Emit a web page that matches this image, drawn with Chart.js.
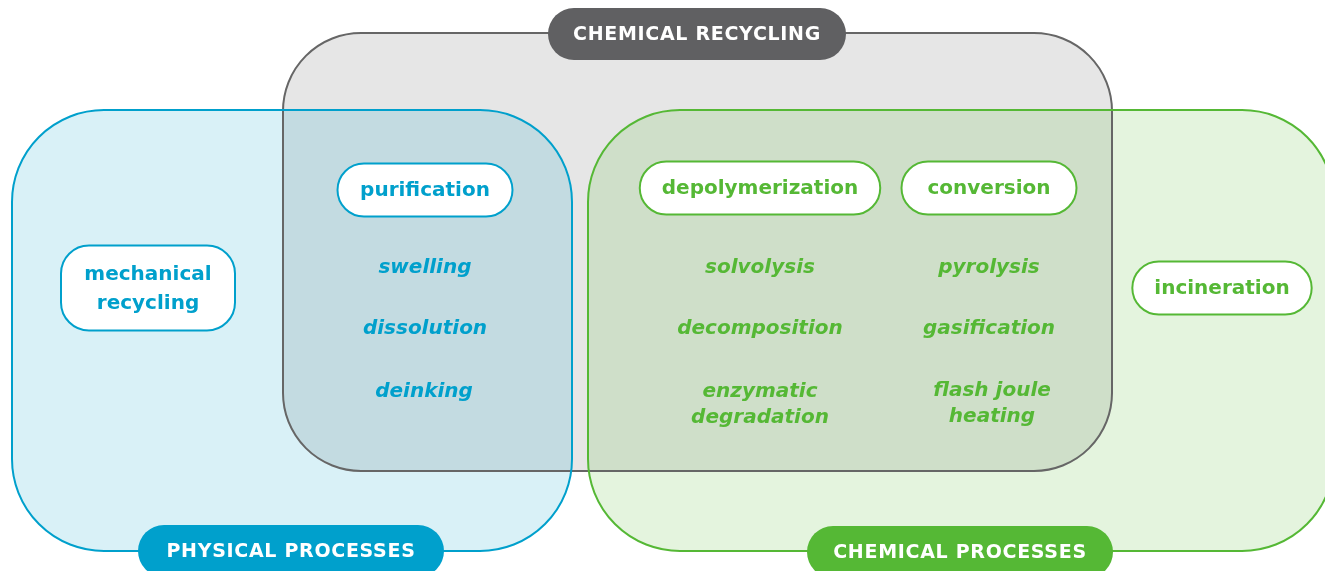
<!DOCTYPE html>
<html>
<head>
<meta charset="utf-8">
<script src="https://cdn.jsdelivr.net/npm/chart.js@4.4.1/dist/chart.umd.min.js"></script>
<style>
  html, body { margin: 0; background: #fff; }
  canvas { display: block; }
</style>
</head>
<body>
<canvas id="venn" width="1325" height="571"></canvas>
<script>
// Recycling routes diagram: three overlapping rounded sets with process labels

// sets (drawn in this order)
const setNames  = ['CHEMICAL RECYCLING', 'PHYSICAL PROCESSES', 'CHEMICAL PROCESSES'];
const setLeft   = [283, 12, 588];
const setRight  = [1112, 572, 1334];
const setTop    = [33, 110, 110];
const setBottom = [471, 551, 551];
const setTagX   = [697, 291, 960];
const setTagY   = [34, 551, 552];

// route boxes (white pills)
const routeNames = [['mechanical', 'recycling'], ['purification'], ['depolymerization'], ['conversion'], ['incineration']];
const routeSet   = [1, 1, 2, 2, 2];
const routeX     = [148, 425, 760, 989, 1222];
const routeY     = [288, 190, 188, 188, 288];

// individual techniques (italic)
const techNames = [['swelling'], ['dissolution'], ['deinking'],
                   ['solvolysis'], ['decomposition'], ['enzymatic', 'degradation'],
                   ['pyrolysis'], ['gasification'], ['flash joule', 'heating']];
const techSet   = [1, 1, 1, 2, 2, 2, 2, 2, 2];
const techX     = [425, 425, 424, 760, 760, 760, 989, 989, 992];
const techY     = [266, 327, 390, 266, 327, 403, 266, 327, 402];

const strokeCol = ['#666666', '#00a0cc', '#55b835'];
const fillCol   = ['#e6e6e6', 'rgba(0,160,204,0.15)', 'rgba(84,185,52,0.16)'];
const tagCol    = ['#606062', '#00a0cc', '#55b835'];

const FONT = '"DejaVu Sans", "Open Sans", sans-serif';

const vennPlugin = {
  id: 'venn',
  beforeDatasetsDraw(chart) {
    const ctx = chart.ctx;
    const sx = chart.scales.x, sy = chart.scales.y;
    const X = v => sx.getPixelForValue(v);
    const Y = v => sy.getPixelForValue(v);
    const box = (x0, y0, x1, y1, r) => {
      ctx.beginPath();
      ctx.roundRect(X(x0), Y(y0), X(x1) - X(x0), Y(y1) - Y(y0), r);
    };

    ctx.save();
    // fills
    setNames.forEach((n, i) => {
      box(setLeft[i], setTop[i], setRight[i], setBottom[i], i === 0 ? 78 : 92);
      ctx.fillStyle = fillCol[i];
      ctx.fill();
    });
    // outlines
    setNames.forEach((n, i) => {
      box(setLeft[i], setTop[i], setRight[i], setBottom[i], i === 0 ? 78 : 92);
      ctx.lineWidth = 2;
      ctx.strokeStyle = strokeCol[i];
      ctx.stroke();
    });

    // set tags
    ctx.font = '700 19px ' + FONT;
    ctx.letterSpacing = '0.7px';
    ctx.textAlign = 'center';
    ctx.textBaseline = 'middle';
    setNames.forEach((n, i) => {
      const cx = X(setTagX[i]), cy = Y(setTagY[i]);
      const hw = 153, hh = 26;
      ctx.beginPath();
      ctx.roundRect(cx - hw + (i === 0 ? 4 : 0), cy - hh, hw * 2 - (i === 0 ? 8 : 0), hh * 2, 26);
      ctx.fillStyle = tagCol[i];
      ctx.fill();
      ctx.fillStyle = '#ffffff';
      ctx.fillText(n, cx, cy + 1);
    });
    ctx.letterSpacing = '0px';

    // route pills
    ctx.font = '700 20px ' + FONT;
    routeNames.forEach((lines, i) => {
      const cx = X(routeX[i]), cy = Y(routeY[i]);
      let w = Math.max(175, Math.max(...lines.map(l => ctx.measureText(l).width)) + 44);
      const h = lines.length > 1 ? 85 : 53;
      if (lines.length > 1) w = 174;
      ctx.beginPath();
      ctx.roundRect(cx - w / 2, cy - h / 2, w, h, lines.length > 1 ? 28 : h / 2);
      ctx.fillStyle = '#ffffff';
      ctx.fill();
      ctx.lineWidth = 2;
      ctx.strokeStyle = strokeCol[routeSet[i]];
      ctx.stroke();
      ctx.fillStyle = strokeCol[routeSet[i]];
      lines.forEach((l, k) => ctx.fillText(l, cx, cy + (k - (lines.length - 1) / 2) * 29 + 1));
    });

    // techniques
    ctx.font = 'italic 600 20px ' + FONT;
    techNames.forEach((lines, i) => {
      const cx = X(techX[i]), cy = Y(techY[i]);
      ctx.fillStyle = strokeCol[techSet[i]];
      lines.forEach((l, k) => ctx.fillText(l, cx, cy + 2 + (k - (lines.length - 1) / 2) * 26));
    });
    ctx.restore();
  }
};

new Chart(document.getElementById('venn'), {
  type: 'scatter',
  data: {
    datasets: [{
      data: techX.map((x, i) => ({ x, y: techY[i] })),
      pointRadius: 0
    }]
  },
  options: {
    responsive: false,
    devicePixelRatio: 1,
    animation: false,
    layout: { padding: 0 },
    scales: {
      x: { type: 'linear', min: 0, max: 1325, display: false },
      y: { type: 'linear', min: 0, max: 571, reverse: true, display: false }
    },
    plugins: { legend: { display: false }, tooltip: { enabled: false } }
  },
  plugins: [vennPlugin]
});
</script>
</body>
</html>
